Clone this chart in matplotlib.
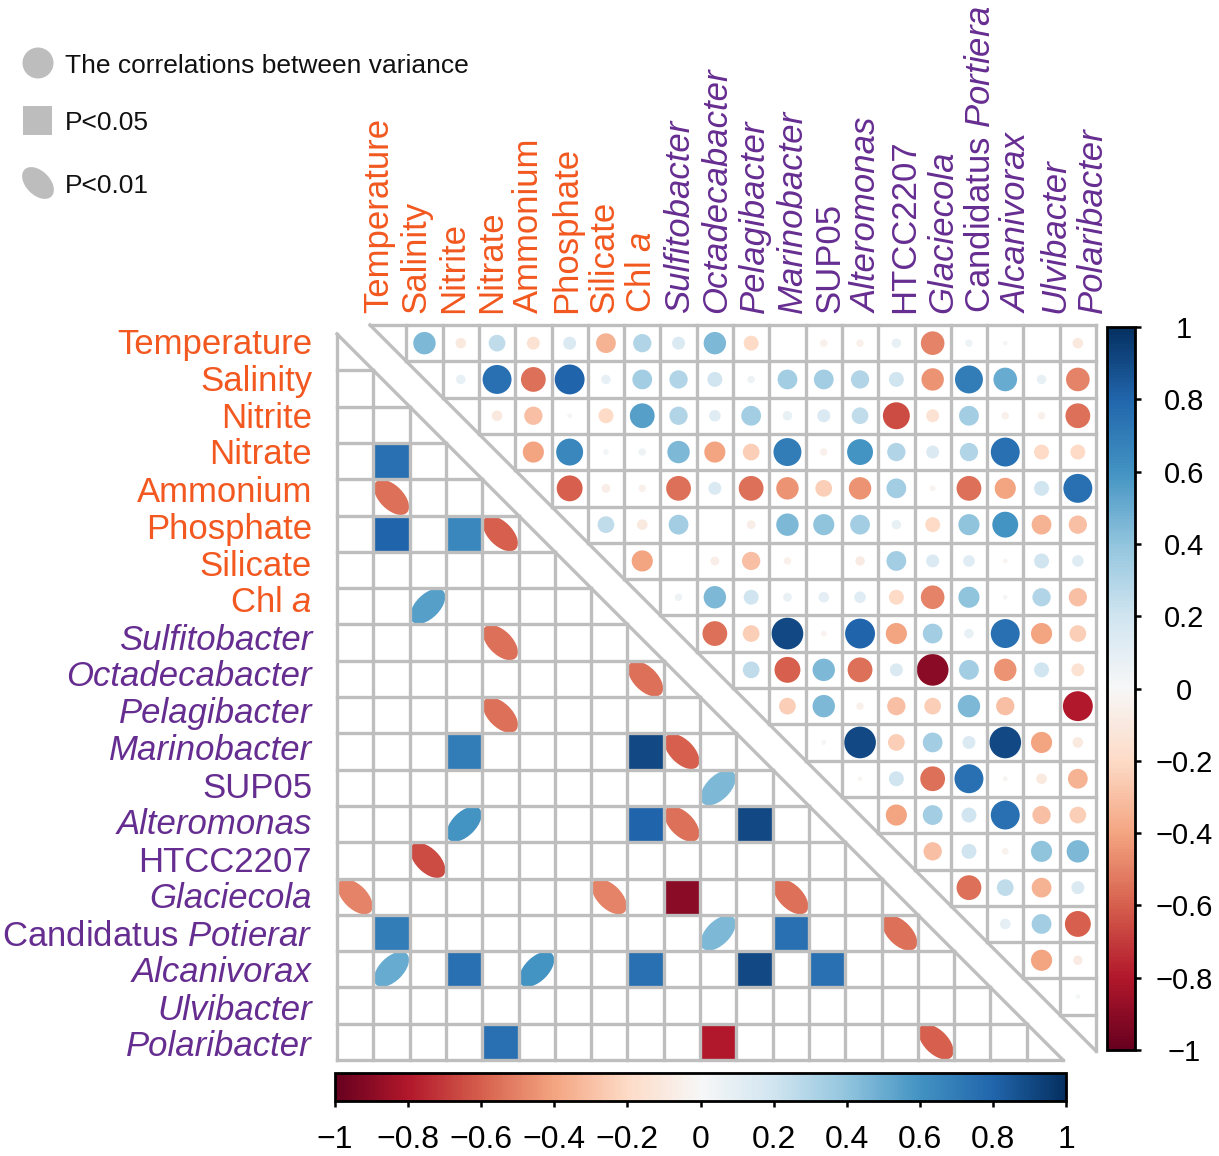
"""
环境因子与优势菌属的相关性热图(corrplot 风格)
  上三角:圆的大小与颜色表示相关系数
  下三角:只画显著的格子,方块 P<0.05,椭圆 P<0.01
"""
import numpy as np
import matplotlib
matplotlib.use("Agg")
import matplotlib.pyplot as plt
from matplotlib.patches import Circle, Ellipse, Rectangle
from matplotlib.colors import Normalize
from matplotlib.cm import ScalarMappable

W, H = 1219, 1156  # 输出像素

plt.rcParams["font.family"] = ["Liberation Sans", "DejaVu Sans"]
plt.rcParams["mathtext.fontset"] = "custom"
plt.rcParams["mathtext.rm"] = "Liberation Sans"
plt.rcParams["mathtext.it"] = "Liberation Sans:italic"

# 行名(左侧)与列名(顶部),前 8 个是环境因子
ROW_LABELS = ["Temperature", "Salinity", "Nitrite", "Nitrate", "Ammonium",
              "Phosphate", "Silicate", "Chl a", "Sulfitobacter",
              "Octadecabacter", "Pelagibacter", "Marinobacter", "SUP05",
              "Alteromonas", "HTCC2207", "Glaciecola", "Candidatus Potierar",
              "Alcanivorax", "Ulvibacter", "Polaribacter"]
COL_LABELS = ROW_LABELS[:16] + ["Candidatus Portiera"] + ROW_LABELS[17:]
N_ENV = 8
ROMAN_TAXA = ["SUP05", "HTCC2207"]

# 上三角相关系数,第 i 行对应列 i+1 .. 19
UPPER = [
    [0.45, -0.10, 0.25, -0.15, 0.15, -0.35, 0.30, 0.15, 0.45, -0.20, 0.00,
     -0.05, -0.05, 0.08, -0.50, 0.05, 0.02, 0.00, -0.10],
    [0.08, 0.75, -0.55, 0.80, 0.08, 0.35, 0.30, 0.20, 0.05, 0.35, 0.35,
     0.30, 0.20, -0.45, 0.70, 0.50, 0.08, -0.50],
    [-0.10, -0.30, 0.02, -0.20, 0.55, 0.30, 0.12, 0.35, 0.08, 0.15, 0.25,
     -0.65, -0.15, 0.35, -0.05, -0.05, -0.55],
    [-0.40, 0.65, 0.03, 0.05, 0.45, -0.40, -0.25, 0.70, -0.05, 0.60, 0.30,
     0.15, 0.30, 0.75, -0.20, -0.20],
    [-0.60, -0.07, -0.05, -0.55, 0.15, -0.55, -0.45, -0.25, -0.45, 0.35,
     -0.03, -0.55, -0.40, 0.20, 0.75],
    [0.25, -0.10, 0.35, 0.00, -0.07, 0.45, 0.40, 0.35, 0.08, -0.20, 0.40,
     0.60, -0.35, -0.30],
    [-0.40, 0.00, -0.07, -0.30, -0.05, 0.00, -0.08, 0.35, 0.15, 0.12, -0.02,
     0.20, 0.12],
    [0.05, 0.45, 0.20, 0.07, 0.10, 0.12, -0.20, -0.50, 0.40, 0.02, 0.30,
     -0.30],
    [-0.55, -0.25, 0.90, -0.03, 0.80, -0.40, 0.35, 0.08, 0.75, -0.40, -0.25],
    [0.25, -0.60, 0.45, -0.55, 0.15, -0.90, 0.35, -0.45, 0.20, -0.15],
    [-0.25, 0.45, -0.05, -0.30, -0.25, 0.45, -0.30, 0.00, -0.80],
    [0.02, 0.90, -0.25, 0.35, 0.15, 0.90, -0.40, -0.10],
    [-0.02, 0.20, -0.55, 0.75, -0.02, -0.10, -0.35],
    [-0.40, 0.35, 0.20, 0.75, -0.30, -0.25],
    [-0.30, 0.20, -0.04, 0.40, 0.45],
    [-0.55, 0.25, -0.35, 0.15],
    [0.10, 0.35, -0.60],
    [-0.40, -0.08],
    [0.02],
]

# 下三角显著性 (行, 列)
SIG_P05 = [(3, 1), (5, 1), (5, 3), (11, 3), (11, 8), (13, 8), (13, 11),
           (15, 9), (16, 1), (16, 12), (17, 3), (17, 8), (17, 11), (17, 13),
           (19, 4), (19, 10)]
SIG_P01 = [(4, 1), (5, 4), (7, 2), (8, 4), (9, 8), (10, 4), (11, 9),
           (12, 10), (13, 3), (13, 9), (14, 2), (15, 0), (15, 7), (15, 12),
           (16, 10), (16, 15), (17, 1), (17, 5), (19, 16)]

CBAR_TICKS = [-1, -0.8, -0.6, -0.4, -0.2, 0, 0.2, 0.4, 0.6, 0.8, 1]

ORANGE = "#F2581F"
PURPLE = "#662D91"
GRID = "#BEBEBE"
LEGEND_GRAY = "#BDBDBD"


def px_box(x, y, w, h):
    """像素矩形(左上角原点)-> figure 坐标"""
    return [x / W, 1 - (y + h) / H, w / W, h / H]


def px_pt(x, y):
    return x / W, 1 - y / H


def label_text(name, idx):
    """返回 (显示文本, 字形);菌属用斜体,Chl a 与 Candidatus 只斜体一部分。"""
    if name == "Chl a":
        return r"Chl $\mathit{a}$", "normal"
    if name.startswith("Candidatus "):
        return "Candidatus $\\mathit{" + name.split()[1] + "}$", "normal"
    if idx < N_ENV or name in ROMAN_TAXA:
        return name, "normal"
    return name, "italic"


n = len(ROW_LABELS)
corr = np.zeros((n, n))
for i, row in enumerate(UPPER):
    corr[i, i + 1:] = row
corr = corr + corr.T

cmap = plt.get_cmap("RdBu")
norm = Normalize(-1, 1)

fig = plt.figure(figsize=(W / 100, H / 100), dpi=100)

# 图例:左上角
leg = fig.add_axes([0, 0, 1, 1])
leg.set_xlim(0, W)
leg.set_ylim(H, 0)
leg.set_axis_off()
leg.add_patch(Circle((38, 63), 15.5, color=LEGEND_GRAY, lw=0))
leg.add_patch(Rectangle((23, 106), 29, 29, color=LEGEND_GRAY, lw=0))
leg.add_patch(Ellipse((38, 183), 38, 24, angle=45, color=LEGEND_GRAY, lw=0))
for text, yb in [("The correlations between variance", 73),
                 ("P<0.05", 130), ("P<0.01", 193)]:
    fig.text(*px_pt(65, yb), text, fontsize=19, color="#111111",
             ha="left", va="baseline")

# 下三角与上三角各用一个坐标系,上三角相对错开
ax_lo = fig.add_axes(px_box(337, 334, 726, 726))
ax_up = fig.add_axes(px_box(370, 325, 726, 726))
for ax in (ax_lo, ax_up):
    ax.set_xlim(0, n)
    ax.set_ylim(n, 0)
    ax.set_axis_off()

for i, j in SIG_P05:
    ax_lo.add_patch(Rectangle((j, i), 1, 1, facecolor=cmap(norm(corr[i, j])),
                              edgecolor="none"))
for i, j in SIG_P01:
    r = corr[i, j]
    ax_lo.add_patch(Ellipse((j + 0.5, i + 0.5), 1.2, 0.66,
                            angle=45 if r < 0 else -45,
                            facecolor=cmap(norm(r)), edgecolor="none"))

for i in range(n):
    for j in range(i + 1, n):
        r = corr[i, j]
        if abs(r) < 0.005:
            continue
        ax_up.add_patch(Circle((j + 0.5, i + 0.5), 0.46 * np.sqrt(abs(r)),
                               facecolor=cmap(norm(r)), edgecolor="none"))

# 网格线
k = np.arange(n + 1)
line_kw = dict(colors=GRID, linewidths=2.4, capstyle="projecting",
               clip_on=False, zorder=5)
ax_lo.hlines(k[1:], 0, k[1:], **line_kw)
ax_lo.vlines(k[:-1], k[:-1], n, **line_kw)
ax_up.hlines(k[:-1], k[:-1], n, **line_kw)
ax_up.vlines(k[1:], 0, k[1:], **line_kw)
for ax in (ax_lo, ax_up):
    ax.plot([0, n], [0, n], color=GRID, lw=2.4, clip_on=False, zorder=5)

# 行名与列名
for i, name in enumerate(ROW_LABELS):
    txt, style = label_text(name, i)
    fig.text(*px_pt(312, 353.5 + 37.0 * i), txt, fontsize=25, style=style,
             color=ORANGE if i < N_ENV else PURPLE, ha="right", va="baseline")
for j, name in enumerate(COL_LABELS):
    txt, style = label_text(name, j)
    fig.text(*px_pt(388 + 37.6 * j, 313), txt, fontsize=25, style=style,
             color=ORANGE if j < N_ENV else PURPLE, rotation=90,
             rotation_mode="anchor", ha="left", va="baseline")

# 色条
sm = ScalarMappable(norm=norm, cmap=cmap)
tick_labels = [f"{v:g}".replace("-", "\u2212") for v in CBAR_TICKS]

cax_r = fig.add_axes(px_box(1107, 327, 28, 723))
cb_r = fig.colorbar(sm, cax=cax_r, orientation="vertical", ticks=CBAR_TICKS)
cb_r.set_ticklabels(tick_labels)
cb_r.outline.set_linewidth(2)
cax_r.tick_params(axis="y", length=4.5, width=1.8, pad=31, labelsize=21,
                  direction="out")
plt.setp(cax_r.get_yticklabels(), ha="center")

cax_b = fig.add_axes(px_box(335, 1073, 731, 28))
cb_b = fig.colorbar(sm, cax=cax_b, orientation="horizontal", ticks=CBAR_TICKS)
cb_b.set_ticklabels(tick_labels)
cb_b.outline.set_linewidth(2)
cax_b.tick_params(axis="x", length=4.5, width=1.8, pad=13, labelsize=23,
                  direction="out")

fig.savefig("out.png", dpi=100, facecolor="white")
plt.close(fig)
